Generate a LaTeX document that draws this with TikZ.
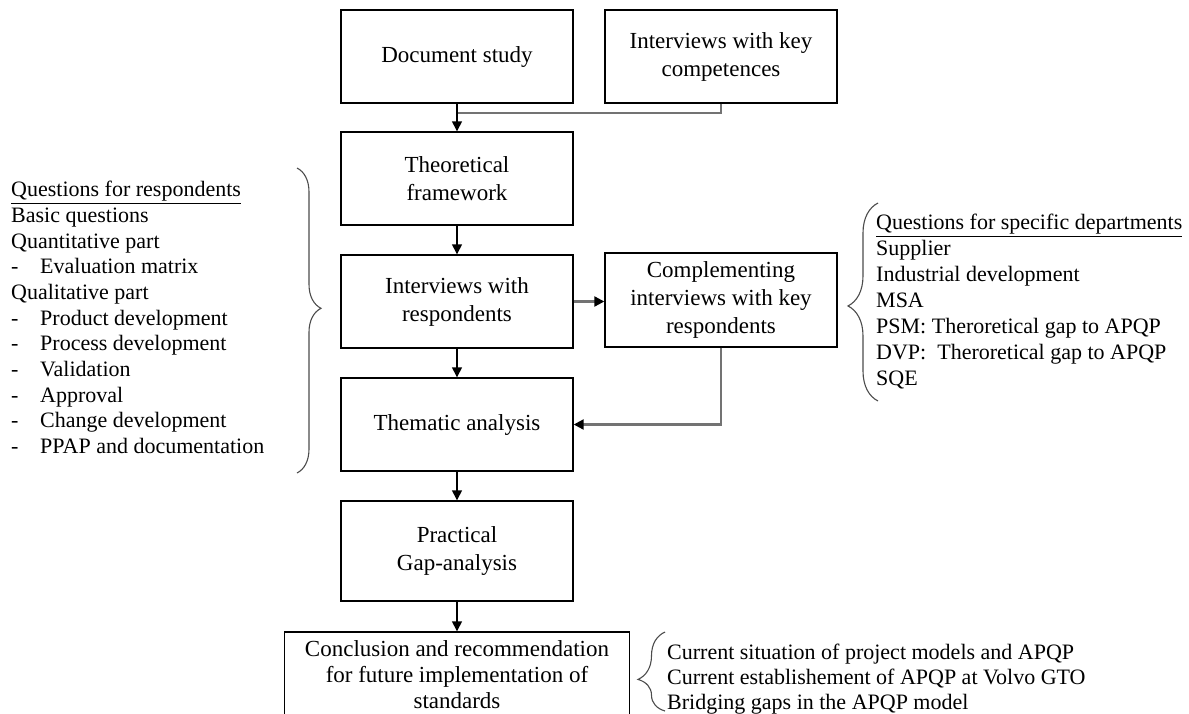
\documentclass[tikz,border=0pt]{standalone}
\usepackage{fontspec}
\setmainfont{Liberation Serif}
\usetikzlibrary{arrows.meta,decorations.pathreplacing}
\newcommand\dashitem[1]{\makebox[29pt][l]{-}#1}
\begin{document}
\begin{tikzpicture}[x=1pt,y=-1pt,
  box/.style={draw=black,line width=1.4pt,minimum width=232pt,minimum height=93pt,
    align=center,font=\fontsize{23}{28}\selectfont,inner sep=2pt},
  flow/.style={draw=black,line width=1.4pt,-{Triangle[length=10pt,width=10pt]}},
  link/.style={draw=black!55,line width=2.2pt},
  linkarrow/.style={link,-{Triangle[length=10pt,width=10pt,color=black]}},
  brc/.style={draw=black!70,line width=1.1pt,decorate},
  list/.style={align=left,inner sep=0pt,anchor=north west}]
\useasboundingbox (0,0) rectangle (1189,713);
\clip (0,0) rectangle (1189,713);

% process boxes
\node[box] (doc) at (457,56.5) {Document study};
\node[box] (comp) at (721,56.5) {Interviews with key\\competences};
\node[box] (theo) at (457,178.5) {Theoretical\\framework};
\node[box] (resp) at (457,301.5) {Interviews with\\respondents};
\node[box,minimum height=94pt] (compl) at (721,300) {Complementing\\interviews with key\\respondents};
\node[box] (them) at (457,424.5) {Thematic analysis};
\node[box,minimum height=100pt] (prac) at (457,551) {Practical\\Gap-analysis};
% the last box runs on past the lower edge of the page
\node[box,minimum width=345pt,minimum height=86pt,font=\fontsize{23}{26}\selectfont]
  (concl) at (457,675) {Conclusion and recommendation\\for future implementation of\\standards};

% connectors
\coordinate (join) at (457,113);
\draw[link] (comp.south) |- (join);
\draw[flow] (doc.south) -- (theo.north);
\draw[flow] (theo.south) -- (resp.north);
\draw[linkarrow] (resp.east) -- (resp.east -| compl.west);
\draw[flow] (resp.south) -- (them.north);
\draw[linkarrow] (compl.south) |- (them.east);
\draw[flow] (them.south) -- (prac.north);
\draw[flow] (prac.south) -- (concl.north);

% question lists
\node[list,font=\fontsize{22}{25.7}\selectfont] (qresp) at (11,181) {%
\underline{Questions for respondents}\\
Basic questions\\
Quantitative part\\
\dashitem{Evaluation matrix}\\
Qualitative part\\
\dashitem{Product development}\\
\dashitem{Process development}\\
\dashitem{Validation}\\
\dashitem{Approval}\\
\dashitem{Change development}\\
\dashitem{PPAP and documentation}};

\node[list,font=\fontsize{22}{26}\selectfont] (qdept) at (876,214) {%
\underline{Questions for specific departments}\\
Supplier\\
Industrial development\\
MSA\\
PSM: Theroretical gap to APQP\\
DVP:\ \ Theroretical gap to APQP\\
SQE};

\node[list,font=\fontsize{22}{25}\selectfont] (qconc) at (667,644) {%
Current situation of project models and APQP\\
Current establishement of APQP at Volvo GTO\\
Bridging gaps in the APQP model};

% braces
\draw[brc,decoration={brace,amplitude=24pt,aspect=0.46}] (297,168) -- (297,473);
\draw[brc,decoration={brace,amplitude=30pt,aspect=0.48}] (878,401) -- (878,203);
\draw[brc,decoration={brace,amplitude=27pt,aspect=0.4}] (665,711) -- (665,632);
\end{tikzpicture}
\end{document}
